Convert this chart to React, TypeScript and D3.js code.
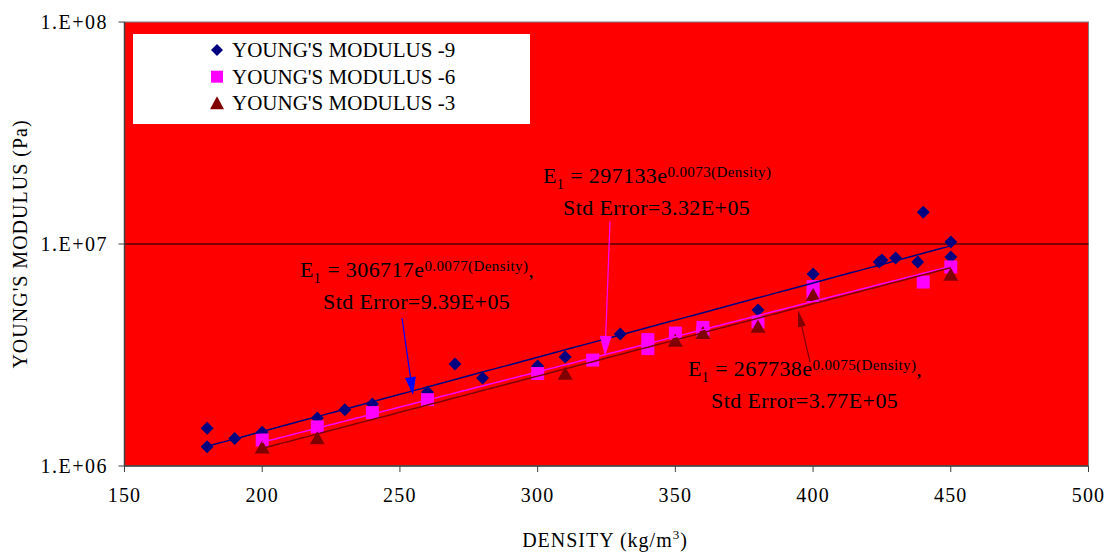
import React from 'react';
import * as d3 from 'd3';

// YOUNG'S MODULUS -9 (diamonds)
const density9 = [180, 180, 190, 200, 220, 230, 240, 260, 270, 280, 300, 310, 330, 380, 400, 424, 425, 430, 438, 440, 450, 450];
const modulus9 = [1.48e6, 1.22e6, 1.33e6, 1.42e6, 1.645e6, 1.79e6, 1.9e6, 2.155e6, 2.88e6, 2.49e6, 2.82e6, 3.1e6, 3.93e6, 5.04e6, 7.33e6, 8.3e6, 8.47e6, 8.65e6, 8.3e6, 1.39e7, 1.02e7, 8.74e6];

// YOUNG'S MODULUS -6 (squares)
const density6 = [200, 220, 240, 260, 300, 320, 340, 340, 350, 360, 360, 380, 400, 400, 440, 450];
const modulus6 = [1.31e6, 1.5e6, 1.74e6, 1.99e6, 2.61e6, 3.0e6, 3.71e6, 3.38e6, 3.97e6, 4.21e6, 3.99e6, 4.45e6, 6.43e6, 5.86e6, 6.74e6, 7.88e6];

// YOUNG'S MODULUS -3 (triangles)
const density3 = [200, 220, 310, 350, 360, 380, 400, 450];
const modulus3 = [1.21e6, 1.33e6, 2.6e6, 3.66e6, 3.97e6, 4.23e6, 5.89e6, 7.25e6];

// trendline fits E = a * e^(b * density)
const fitA = [306717, 297133, 267738];
const fitB = [0.0077, 0.0073, 0.0075];

const xTicks = [150, 200, 250, 300, 350, 400, 450, 500];
const yTicks = [1e6, 1e7, 1e8];
const yTickLabels = ['1.E+06', '1.E+07', '1.E+08'];
const legendLabels = ["YOUNG'S MODULUS -9", "YOUNG'S MODULUS -6", "YOUNG'S MODULUS -3"];

const NAVY = '#000080';
const PINK = '#ff00ff';
const MAROON = '#800000';
const FONT = '"Liberation Serif", "Times New Roman", serif';

const left = 124.5, right = 1088.5, top = 22, bottom = 466;

const x = d3.scaleLinear().domain([150, 500]).range([left, right]);
const y = d3.scaleLog().domain([1e6, 1e8]).range([bottom, top]);

const diamond = (cx: number, cy: number, r = 6.5) =>
  `M${cx},${cy - r}L${cx + r},${cy}L${cx},${cy + r}L${cx - r},${cy}Z`;
const square = (cx: number, cy: number, h = 6.5) =>
  `M${cx - h},${cy - h}H${cx + h}V${cy + h}H${cx - h}Z`;
const triangle = (cx: number, cy: number, w = 7.5, h = 13) =>
  `M${cx},${cy - h * 0.55}L${cx + w},${cy + h * 0.45}L${cx - w},${cy + h * 0.45}Z`;

const fitLine = (a: number, b: number, x0: number, x1: number) => {
  const pts = d3.range(x0, x1 + 0.001, 2).map((d) => [d, a * Math.exp(b * d)] as [number, number]);
  return d3.line<[number, number]>().x((d) => x(d[0])).y((d) => y(d[1]))(pts) || '';
};

const Arrow = ({ x1, y1, x2, y2, color, len = 18, wid = 5.5 }: any) => {
  const ang = Math.atan2(y2 - y1, x2 - x1);
  const bx = x2 - len * Math.cos(ang), by = y2 - len * Math.sin(ang);
  const px = -Math.sin(ang) * wid, py = Math.cos(ang) * wid;
  return (
    <g>
      <line x1={x1} y1={y1} x2={bx} y2={by} stroke={color} strokeWidth={1.2} />
      <path d={`M${x2},${y2}L${bx + px},${by + py}L${bx - px},${by - py}Z`} fill={color} />
    </g>
  );
};

const Equation = ({ tx, ty, a, b, comma, err, ex }: any) => (
  <g fontFamily={FONT} fill="#000">
    <text x={tx} y={ty} fontSize={22} letterSpacing={0.4}>
      <tspan>E</tspan>
      <tspan fontSize={14} dy={6}>1</tspan>
      <tspan dy={-6}>{` = ${a}e`}</tspan>
      <tspan fontSize={15} dy={-6}>{b.toFixed(4)}</tspan>
      <tspan fontSize={15}>(Density)</tspan>
      {comma ? <tspan dy={6}>,</tspan> : null}
    </text>
    <text x={ex} y={ty + 32} fontSize={22} letterSpacing={0.4}>{`Std Error=${err}`}</text>
  </g>
);

export default function App() {
  return (
    <svg width={1109} height={552} style={{ position: 'absolute', left: 0, top: 0, background: '#fff' }}>
      <rect x={left} y={top} width={right - left} height={bottom - top} fill="#ff0000" stroke="#808080" strokeWidth={1} />
      {/* 1.E+07 gridline */}
      <line x1={left} x2={right} y1={y(1e7)} y2={y(1e7)} stroke="#000" strokeWidth={1} />

      {/* axes */}
      <line x1={left} x2={left} y1={top} y2={bottom} stroke="#404040" strokeWidth={1.5} />
      <line x1={left} x2={right} y1={bottom} y2={bottom} stroke="#404040" strokeWidth={1.5} />
      {xTicks.map((t) => (
        <g key={t}>
          <line x1={x(t)} x2={x(t)} y1={bottom} y2={bottom + 6} stroke="#404040" />
          <text x={x(t)} y={502} textAnchor="middle" fontSize={20} fontFamily={FONT} letterSpacing={1.2}>{t}</text>
        </g>
      ))}
      {yTicks.map((t, i) => (
        <g key={t}>
          <line x1={left - 6} x2={left} y1={y(t)} y2={y(t)} stroke="#404040" />
          <text x={108} y={y(t) + 7} textAnchor="end" fontSize={20} fontFamily={FONT} letterSpacing={1.5}>{yTickLabels[i]}</text>
        </g>
      ))}
      <text transform="translate(27,244) rotate(-90)" textAnchor="middle" fontSize={20} fontFamily={FONT} letterSpacing={1}>YOUNG'S MODULUS (Pa)</text>
      <text x={605} y={547} textAnchor="middle" fontSize={20} fontFamily={FONT} letterSpacing={1}>
        DENSITY (kg/m<tspan fontSize={13} dy={-8}>3</tspan><tspan dy={8}>)</tspan>
      </text>

      {/* markers */}
      {density9.map((d, i) => <path key={'a' + i} d={diamond(x(d), y(modulus9[i]))} fill={NAVY} />)}
      {density6.map((d, i) => <path key={'b' + i} d={square(x(d), y(modulus6[i]))} fill={PINK} />)}
      {density3.map((d, i) => <path key={'c' + i} d={triangle(x(d), y(modulus3[i]))} fill={MAROON} />)}

      {/* trendlines */}
      <path d={fitLine(fitA[0], fitB[0], d3.min(density9)!, d3.max(density9)!)} fill="none" stroke={NAVY} strokeWidth={1.5} />
      <path d={fitLine(fitA[1], fitB[1], d3.min(density6)!, d3.max(density6)!)} fill="none" stroke={PINK} strokeWidth={1.5} />
      <path d={fitLine(fitA[2], fitB[2], d3.min(density3)!, d3.max(density3)!)} fill="none" stroke={MAROON} strokeWidth={1.5} />

      {/* annotations */}
      <Equation tx={300} ty={277} a={fitA[0]} b={fitB[0]} comma err="9.39E+05" ex={323} />
      <Equation tx={543} ty={183} a={fitA[1]} b={fitB[1]} comma={false} err="3.32E+05" ex={563} />
      <Equation tx={688} ty={376} a={fitA[2]} b={fitB[2]} comma err="3.77E+05" ex={711} />
      <Arrow x1={402} y1={318} x2={413} y2={395} color="#0000ff" />
      <Arrow x1={610} y1={221} x2={605} y2={356} color={PINK} len={20} wid={6} />
      <Arrow x1={810} y1={362} x2={798} y2={310} color={MAROON} len={17} wid={4} />

      {/* legend */}
      <rect x={133} y={34} width={397} height={90} fill="#fff" />
      {legendLabels.map((l, i) => {
        const cy = 50 + i * 26.7;
        const mark = i === 0 ? diamond(217, cy, 6) : i === 1 ? square(217, cy, 6) : triangle(217, cy, 7, 13);
        const col = i === 0 ? NAVY : i === 1 ? PINK : MAROON;
        return (
          <g key={l}>
            <path d={mark} fill={col} />
            <text x={232} y={cy + 7} fontSize={21} fontFamily={FONT}>{l}</text>
          </g>
        );
      })}
    </svg>
  );
}
